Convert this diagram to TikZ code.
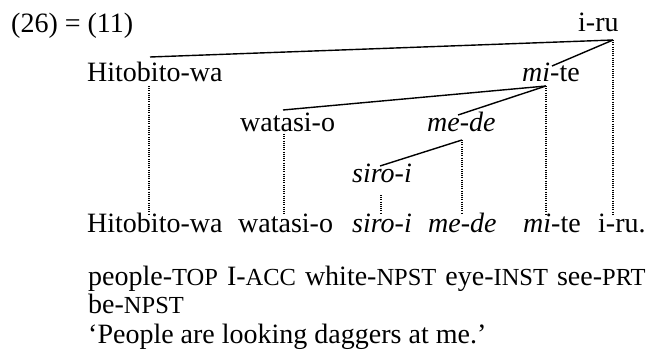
\documentclass[tikz,border=0pt]{standalone}
\usepackage{fontspec}
\setmainfont{Liberation Serif}
\usepackage{tikz}
\usetikzlibrary{positioning}
\tikzset{
    word/.style={anchor=base west, inner sep=0pt, font=\fontsize{28}{29}\selectfont},
    branch/.style={line width=1.4pt},
    trace/.style={line width=1.2pt, dash pattern=on 1pt off 1.2pt}
}
\newcommand{\gl}[1]{{\fontsize{24.5}{29}\selectfont #1}}

\begin{document}
\begin{tikzpicture}[x=1pt, y=-1pt]
        \useasboundingbox (0,0) rectangle (652,358);
        % tree
        \draw (11,33) node[word](ex){(26) = (11)};
        \draw (578,32) node[word](iru){i-ru};
        \draw (87,82) node[word](hito){Hitobito-wa};
        \draw (522,82) node[word](mite){\textit{mi}-te};
        \draw (240,132) node[word](watasi){watasi-o};
        \draw (427,132) node[word](mede){\textit{me-de}};
        \draw (352,182) node[word](siro){\textit{siro-i}};
        % sentence
        \draw (87,232) node[word](hitoS){Hitobito-wa};
        \draw (238,232) node[word](watasiS){watasi-o};
        \draw (352,232) node[word](siroS){\textit{siro-i}};
        \draw (428,232) node[word](medeS){\textit{me-de}};
        \draw (523,232) node[word](miteS){\textit{mi}-te};
        \draw (598,232) node[word](iruS){i-ru.};
        % gloss and translation
        \draw (88,285) node[word](gloss){people-\gl{TOP}\hspace{9pt}I-\gl{ACC}\hspace{9pt}white-\gl{NPST}\hspace{9pt}eye-\gl{INST}\hspace{9pt}see-\gl{PRT}};
        \draw (88,313) node[word](glossB){be-\gl{NPST}};
        \draw (88,343) node[word](trans){`People are looking daggers at me.'};
        % attachment points
        \coordinate (iruP) at (613,40);
        \coordinate (hitoP) at (150,57);
        \coordinate (iruL) at (552,66);
        \coordinate (miteP) at (546,86);
        \coordinate (watasiP) at (283,110);
        \coordinate (miteL) at (458,115);
        \coordinate (medeP) at (462,140);
        \coordinate (siroP) at (380,166);
        \coordinate (hitoD) at (149,86);
        \coordinate (watasiD) at (284,134);
        \coordinate (siroD) at (381,195);
        \draw[branch] (iruP) -- (hitoP);
        \draw[branch] (iruP) -- (iruL);
        \draw[branch] (miteP) -- (watasiP);
        \draw[branch] (miteP) -- (miteL);
        \draw[branch] (medeP) -- (siroP);
        % projection lines
        \draw[trace] (iruP) -- (iruP |- 0,214);
        \draw[trace] (miteP) -- (miteP |- 0,214);
        \draw[trace] (medeP) -- (medeP |- 0,214);
        \draw[trace] (hitoD) -- (hitoD |- 0,214);
        \draw[trace] (watasiD) -- (watasiD |- 0,215);
        \draw[trace] (siroD) -- (siroD |- 0,214);
\end{tikzpicture}
\end{document}
